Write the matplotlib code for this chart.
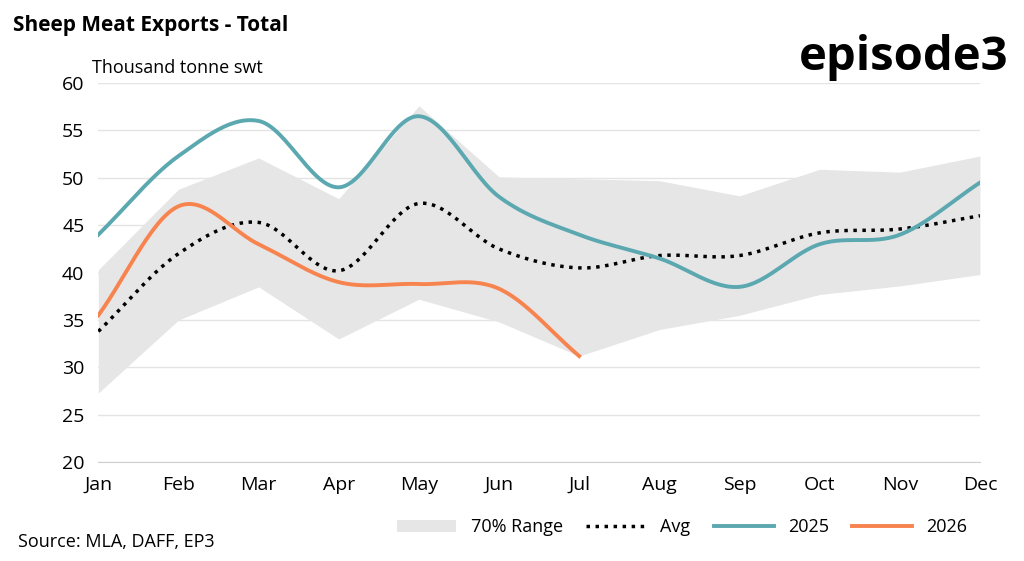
import numpy as np
import matplotlib.pyplot as plt

plt.rcParams['font.family'] = ['Open Sans', 'DejaVu Sans']

months = ["Jan", "Feb", "Mar", "Apr", "May", "Jun", "Jul", "Aug", "Sep", "Oct", "Nov", "Dec"]
range_hi = [40.3, 48.8, 52.1, 47.8, 57.6, 50.1, 49.9, 49.7, 48.1, 50.9, 50.6, 52.3]
range_lo = [27.3, 35.0, 38.5, 33.0, 37.2, 34.8, 31.2, 34.0, 35.5, 37.7, 38.6, 39.8]
avg = [33.8, 42.0, 45.3, 40.2, 47.3, 42.5, 40.5, 41.8, 41.8, 44.2, 44.6, 46.0]
y2025 = [44.0, 52.3, 56.0, 49.0, 56.5, 48.0, 44.0, 41.5, 38.5, 43.0, 44.0, 49.5]
y2026 = [35.5, 47.0, 43.0, 39.0, 38.8, 38.3, 31.2]


def smooth(vals, n=30):
    # Catmull-Rom spline through the points, like Excel's smoothed line
    p = np.asarray(vals, float)
    p = np.concatenate([[2 * p[0] - p[1]], p, [2 * p[-1] - p[-2]]])
    xs, ys = [], []
    for i in range(1, len(p) - 2):
        t = np.linspace(0, 1, n, endpoint=False)
        p0, p1, p2, p3 = p[i - 1], p[i], p[i + 1], p[i + 2]
        y = 0.5 * (2 * p1 + (-p0 + p2) * t + (2 * p0 - 5 * p1 + 4 * p2 - p3) * t ** 2
                   + (-p0 + 3 * p1 - 3 * p2 + p3) * t ** 3)
        xs.append(i - 1 + t)
        ys.append(y)
    xs.append([len(vals) - 1])
    ys.append([vals[-1]])
    return np.concatenate(xs), np.concatenate(ys)


fig = plt.figure(figsize=(10.24, 5.61), dpi=100)
ax = fig.add_axes([0.096, 0.176, 0.861, 0.676])
x = np.arange(len(months))

ax.fill_between(x, range_lo, range_hi, color="#e6e6e6", lw=0, label="70% Range")
ax.plot(*smooth(avg), color="black", ls=(0, (1, 1.6)), lw=2.5, label="Avg")
ax.plot(*smooth(y2025), color="#5ba8b0", lw=2.8, label="2025")
ax.plot(*smooth(y2026), color="#f7844f", lw=2.8, label="2026")

ax.set_ylim(20, 60)
ax.set_xlim(0, 11)
ax.set_yticks(range(20, 61, 5))
ax.set_xticks(x)
ax.set_xticklabels(months)
ax.tick_params(labelsize=14, length=0, pad=10)
ax.grid(axis="y", color="#e4e4e4", lw=1)
ax.set_axisbelow(True)
for s in ["top", "right", "left"]:
    ax.spines[s].set_visible(False)
ax.spines["bottom"].set_color("#d0d0d0")

fig.text(0.013, 0.945, "Sheep Meat Exports - Total", fontsize=15, fontweight="bold")
fig.text(0.09, 0.87, "Thousand tonne swt", fontsize=13)
fig.text(0.985, 0.875, "episode3", fontsize=34, fontweight="bold", ha="right")
fig.text(0.018, 0.025, "Source: MLA, DAFF, EP3", fontsize=13)

ax.legend(loc="upper left", bbox_to_anchor=(0.32, -0.105), ncol=4, frameon=False,
          fontsize=13, handlelength=3.3, columnspacing=1.3)

fig.savefig("out.png", dpi=100)
